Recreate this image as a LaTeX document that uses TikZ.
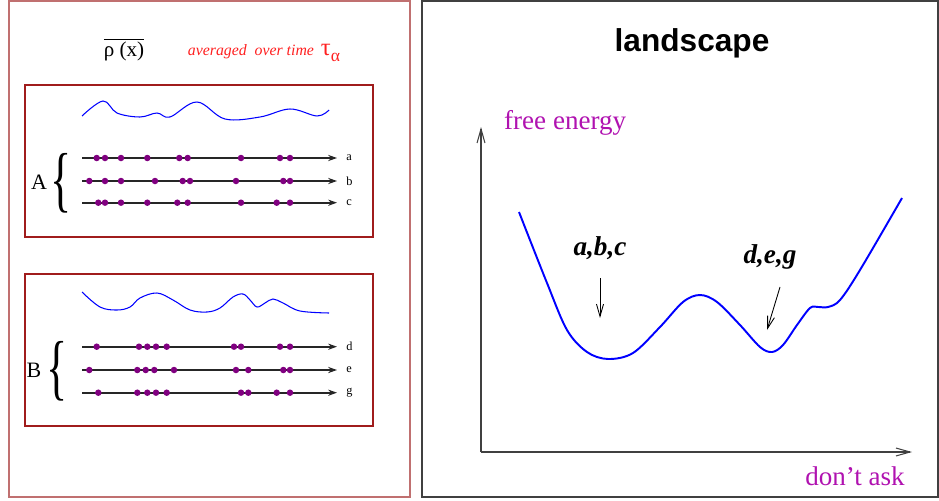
\documentclass[tikz,border=0pt]{standalone}
\usepackage{fontspec}
\usepackage{graphicx}
\setmainfont{Liberation Serif}
\newfontfamily\titlefont{Liberation Sans}
\usetikzlibrary{arrows.meta}
\definecolor{panelred}{HTML}{C07070}
\definecolor{boxred}{HTML}{A01C1C}
\definecolor{dotpurple}{HTML}{800080}
\definecolor{axisgray}{HTML}{404040}
\definecolor{labelmagenta}{HTML}{B012B0}
\definecolor{avgred}{HTML}{FF2020}
\newcommand{\groupbrace}{\resizebox*{12pt}{34pt}{\fontsize{24}{24}\selectfont\{}}

\begin{document}
\begin{tikzpicture}[
  x=0.02cm, y=-0.02cm,
  panel/.style={draw=panelred, line width=1pt},
  plotpanel/.style={draw=axisgray, line width=0.8pt},
  ensemble/.style={draw=boxred, line width=0.7pt},
  density/.style={blue, line width=0.6pt},
  rowline/.style={-{Stealth[length=5pt,width=3.5pt]}, line width=1.1pt, black!85},
  particle/.style={circle, fill=dotpurple, inner sep=0pt, minimum size=3.7pt},
  rowlab/.style={font=\fontsize{7}{8}\selectfont, anchor=west, inner sep=0pt},
  grouplab/.style={font=\fontsize{12.5}{13}\selectfont, inner sep=0pt},
  axis/.style={-{Straight Barb[length=8pt,width=4.5pt]}, axisgray, line width=0.6pt},
  axislab/.style={labelmagenta, font=\fontsize{15.4}{17}\selectfont},
  pointer/.style={-{Straight Barb[length=7pt,width=4pt]}, black, line width=0.5pt},
  basin/.style={font=\fontsize{15.5}{17}\selectfont\bfseries\itshape},
  landscape/.style={blue, line width=1.1pt}
]
\useasboundingbox (0,0) rectangle (939,500);

% left panel: densities of the two ensembles
\draw[panel] (9,1) rectangle (410,497);
\node (rho) at (124,50) {\fontsize{12}{13}\selectfont$\overline{\mbox{ρ (x)}}$};
\node[avgred] (avg) at (264,53) {{\fontsize{9}{10}\selectfont\itshape averaged\ \ over time}\hspace{4pt}{\fontsize{14}{15}\selectfont τ}\raisebox{-3pt}{\fontsize{10}{11}\selectfont α}};

\draw[ensemble] (25,85) rectangle (373,237);
\draw[ensemble] (25,274) rectangle (373,426);

\draw[density] plot[smooth, tension=0.6] coordinates {(82,116) (103,101) (117,113) (140,117) (157,113) (170,117) (197,102) (225,119) (260,117) (290,109) (317,116) (329,110)};
\draw[density] plot[smooth, tension=0.6] coordinates {(82,292) (100,307) (117,310) (130,307) (140,298) (157,293) (173,300) (190,310) (207,312) (220,308) (233,297) (243,294) (250,300) (257,307) (265,303) (273,299) (283,303) (300,311) (329,313)};

\node[grouplab] (A) at (39,182) {A};
\node[inner sep=0pt] (A-brace) at (61,183) {\groupbrace};
\node[grouplab] (B) at (34,370) {B};
\node[inner sep=0pt] (B-brace) at (57,371) {\groupbrace};

\foreach \row/\yy/\xs in {
  a/158/{96.7,105,121,147.3,179.3,187.7,241,280,290},
  b/181/{89.3,105,121,155,182.7,190,236,283.3,290},
  c/202.7/{98.3,105,121,147.3,177.3,187.7,241,276.7,290},
  d/346.7/{96.7,139,147.3,156,166.7,234,241,280,290},
  e/370/{89.3,137.3,145.7,154.3,174,236,248.3,283.3,290},
  g/392.7/{98.3,137.3,147.3,156,166.7,241,248.3,276.7,290}}{
  \coordinate (\row-start) at (82,\yy);
  \coordinate (\row-end) at (337,\yy);
  \node[rowlab] (\row-lab) at (346,\yy) {\row};
  \draw[rowline] (\row-start) -- (\row-end);
  \foreach \xx [count=\k] in \xs
    \node[particle] (\row\k) at (\xx,\yy) {};
}

% right panel: free energy landscape
\draw[plotpanel] (422,1) rectangle (938,497);
\node (title) at (692,43) {\titlefont\fontsize{18}{20}\selectfont\bfseries landscape};

\coordinate (origin) at (481,452);
\coordinate (ytip) at (481,127);
\coordinate (xtip) at (912,452);
\draw[axis] (origin) -- (ytip);
\draw[axis] (origin) -- (xtip);
\node[axislab, anchor=west] (ylab) at (498,123) {free energy};
\node[axislab] (xlab) at (855,476) {don't ask};

\draw[landscape] plot[smooth, tension=0.55] coordinates {(519,212) (547,283) (567,330) (587,352) (608,359) (633,353) (660,327) (683,302) (700,295) (717,302) (740,325) (760,347) (772,352) (783,345) (797,325) (810,308) (818,307) (828,307) (840,300) (860,270) (902,198)};

\node[basin] (abc) at (600,248) {a,b,c};
\node[basin] (deg) at (770,257) {d,e,g};
\coordinate (abc-tail) at (600,278);
\coordinate (abc-head) at (600,318);
\coordinate (deg-tail) at (780,287);
\coordinate (deg-head) at (767,330);
\draw[pointer] (abc-tail) -- (abc-head);
\draw[pointer] (deg-tail) -- (deg-head);
\end{tikzpicture}
\end{document}
